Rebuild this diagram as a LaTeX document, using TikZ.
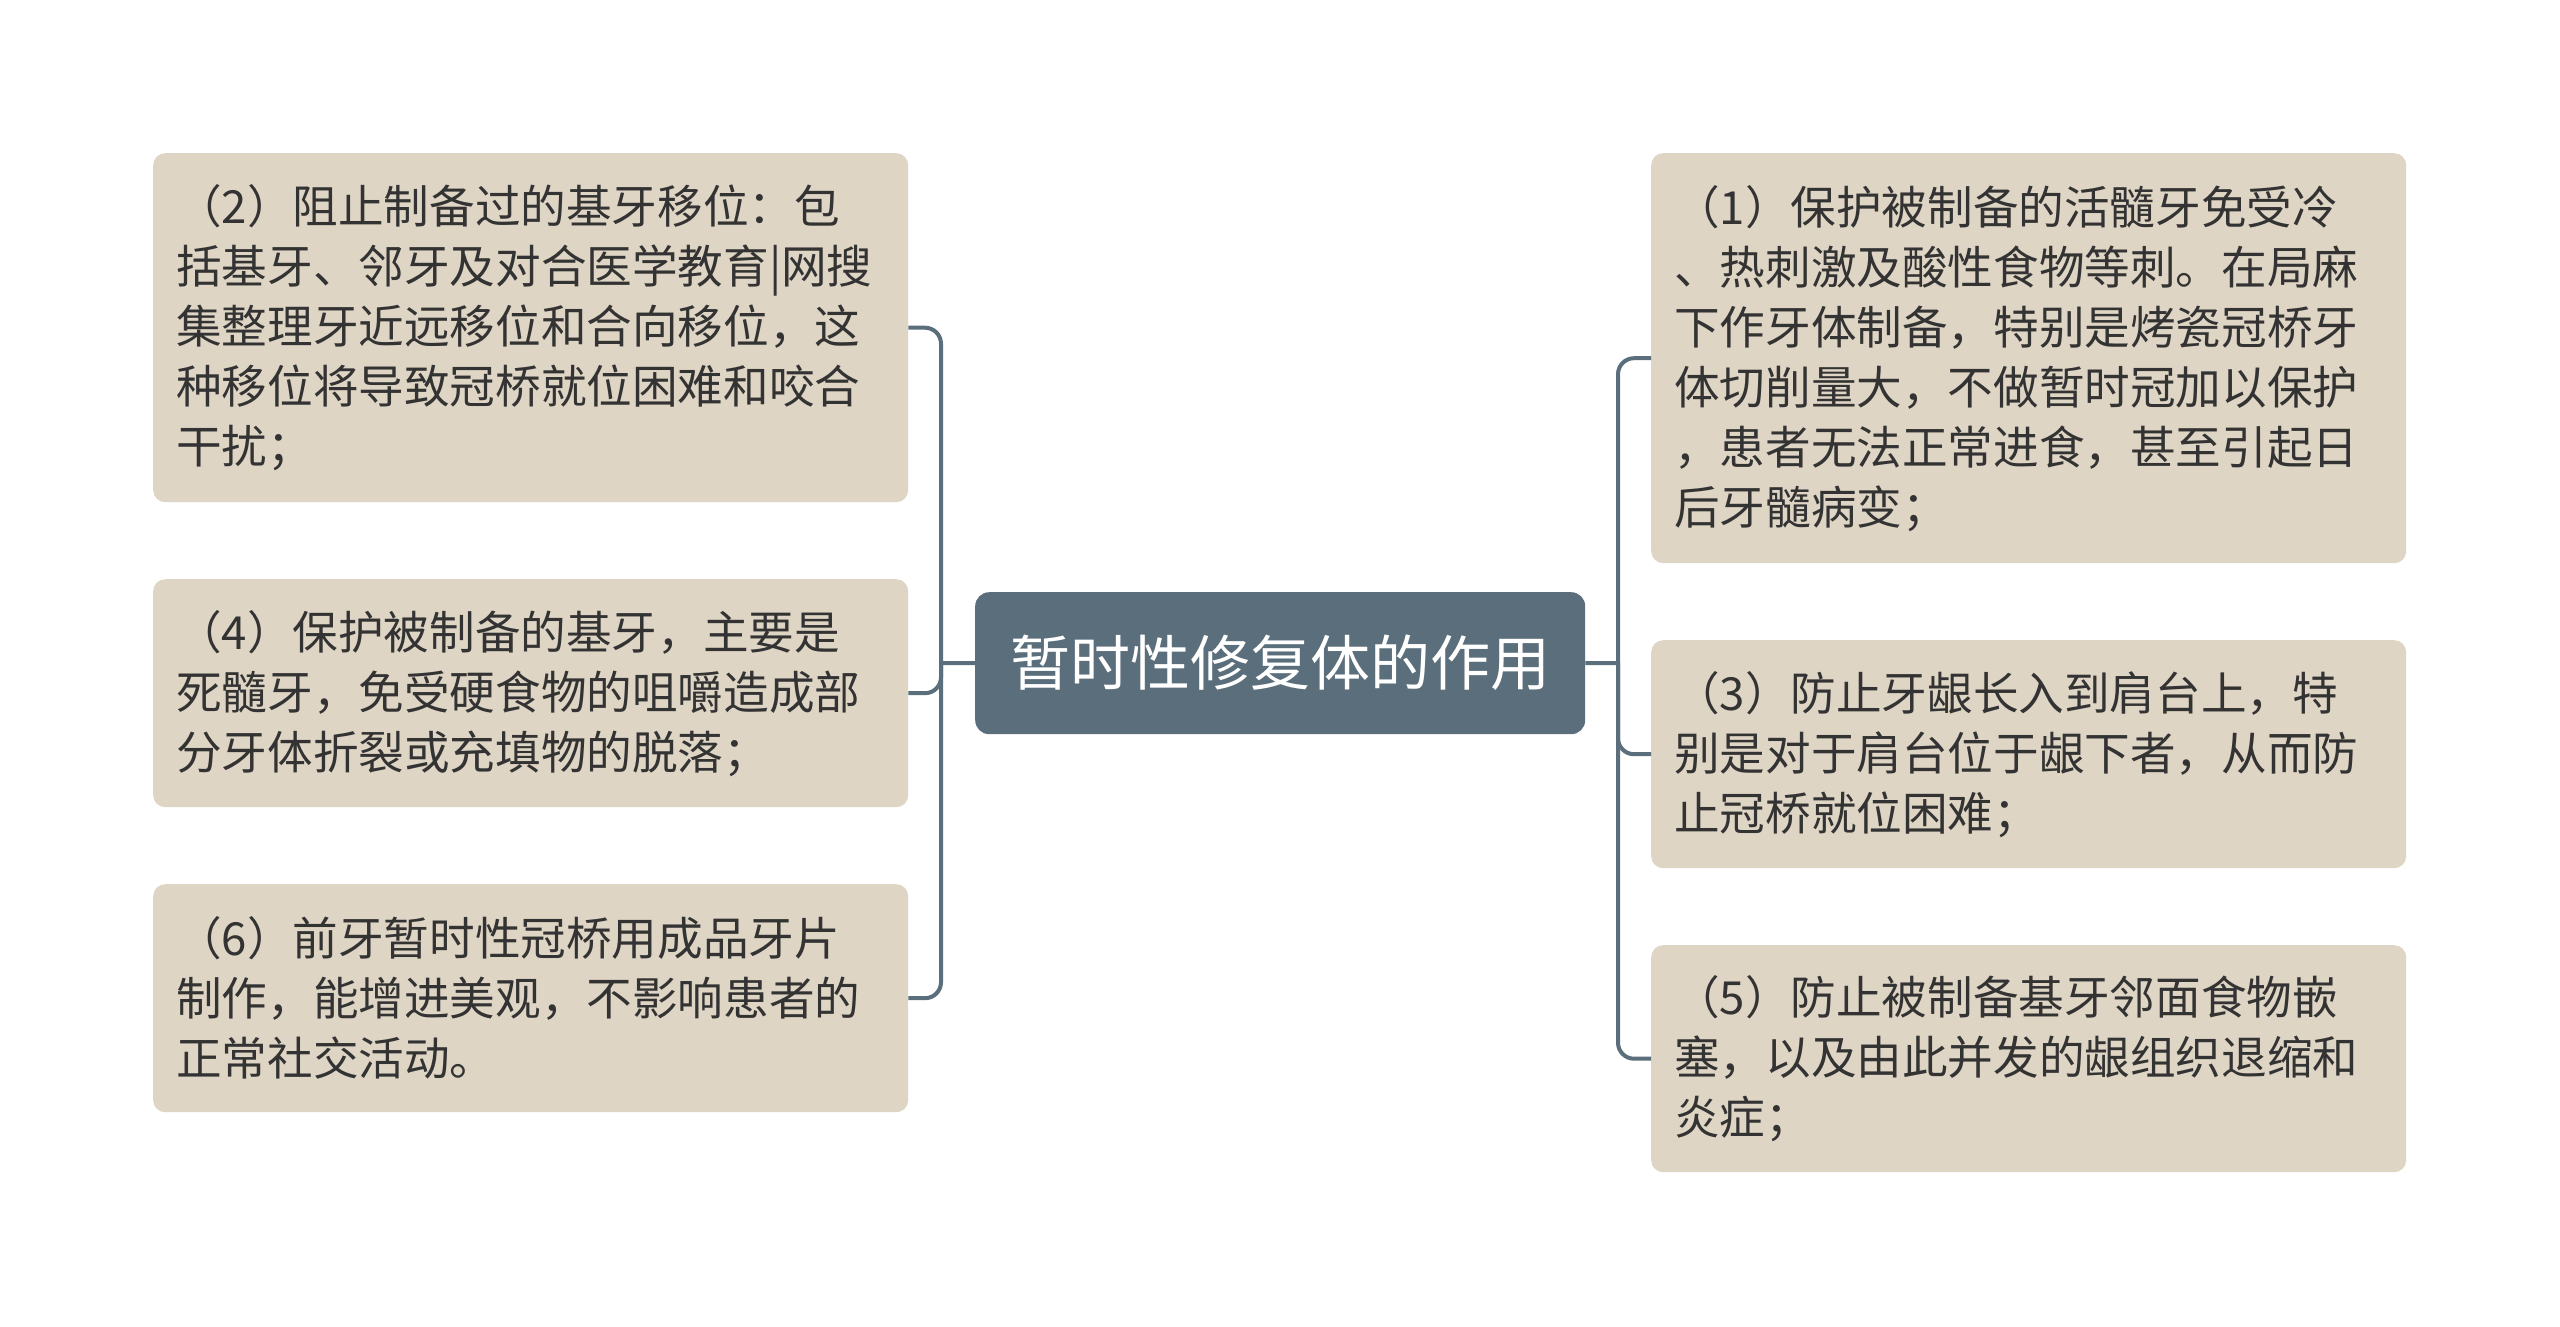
\documentclass[tikz,border=0pt]{standalone}
\usepackage{fontspec}
\setmainfont{Noto Sans CJK SC}
\definecolor{linec}{HTML}{5B6E7B}
\definecolor{rootfill}{HTML}{5B6E7B}
\definecolor{leaffill}{HTML}{DFD5C5}
\definecolor{textc}{HTML}{333333}
\begin{document}
\begin{tikzpicture}[x=1pt,y=-1pt,
  leaf/.style={fill=leaffill, rounded corners=12pt, minimum width=755pt, inner xsep=23pt, inner ysep=0pt,
    align=left, text width=709pt, font=\fontsize{45.6pt}{60pt}\selectfont, text=textc, anchor=north west},
  rootbox/.style={fill=rootfill, rounded corners=14pt, minimum width=610pt, minimum height=142pt,
    inner sep=0pt, text=white, font=\fontsize{60pt}{70pt}\selectfont, anchor=north west},
  conn/.style={draw=linec, line width=4pt}]
\fill[white] (0,0) rectangle (2560,1326);
\useasboundingbox (0,0) rectangle (2560,1326);

\node[rootbox] (root) at (975,592) {暂时性修复体的作用};

\node[leaf, minimum height=349pt] (b2) at (153,153) {（2）阻止制备过的基牙移位：包\\括基牙、邻牙及对合医学教育|网搜\\集整理牙近远移位和合向移位，这\\种移位将导致冠桥就位困难和咬合\\干扰；};
\node[leaf, minimum height=228pt] (b4) at (153,579) {（4）保护被制备的基牙，主要是\\死髓牙，免受硬食物的咀嚼造成部\\分牙体折裂或充填物的脱落；};
\node[leaf, minimum height=228pt] (b6) at (153,884) {（6）前牙暂时性冠桥用成品牙片\\制作，能增进美观，不影响患者的\\正常社交活动。};

\node[leaf, minimum height=410pt] (b1) at (1651,153) {（1）保护被制备的活髓牙免受冷\\、热刺激及酸性食物等刺。在局麻\\下作牙体制备，特别是烤瓷冠桥牙\\体切削量大，不做暂时冠加以保护\\，患者无法正常进食，甚至引起日\\后牙髓病变；};
\node[leaf, minimum height=228pt] (b3) at (1651,640) {（3）防止牙龈长入到肩台上，特\\别是对于肩台位于龈下者，从而防\\止冠桥就位困难；};
\node[leaf, minimum height=227pt] (b5) at (1651,945) {（5）防止被制备基牙邻面食物嵌\\塞，以及由此并发的龈组织退缩和\\炎症；};

\coordinate (jl) at (941,663);
\coordinate (jr) at (1618,663);

\draw[conn] (root.west) -- (jl);
\draw[conn, rounded corners=16pt] (jl) |- (b2.east);
\draw[conn, rounded corners=16pt] (jl) |- (b4.east);
\draw[conn, rounded corners=16pt] (jl) |- (b6.east);

\draw[conn] (root.east) -- (jr);
\draw[conn, rounded corners=16pt] (jr) |- (b1.west);
\draw[conn, rounded corners=16pt] (jr) |- (b3.west);
\draw[conn, rounded corners=16pt] (jr) |- (b5.west);
\end{tikzpicture}
\end{document}
